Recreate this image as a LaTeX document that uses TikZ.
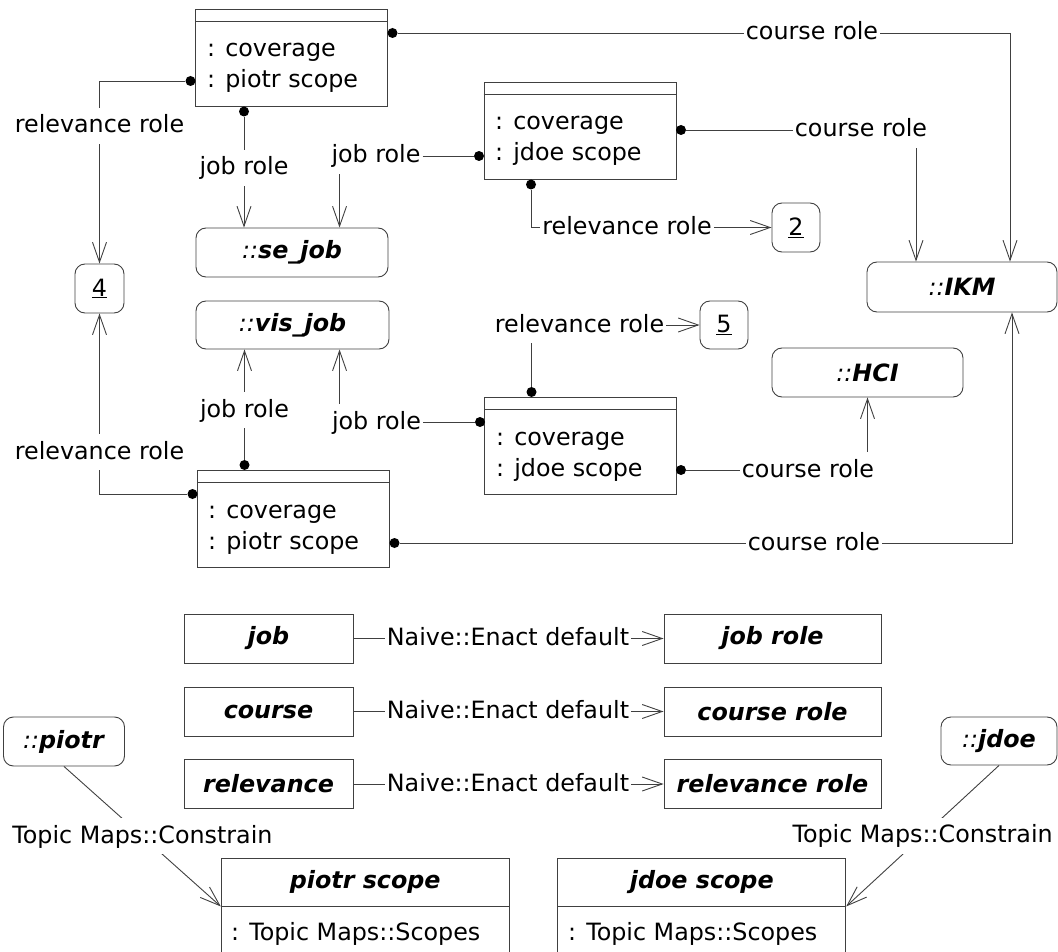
\documentclass[tikz,border=0pt]{standalone}
\usepackage{fontspec}
\setmainfont{DejaVu Sans}
\usetikzlibrary{arrows.meta, calc, positioning}

\tikzset{
  role/.style={draw=black!75, line width=0.9pt},
  tip/.style={role, -{Straight Barb[length=20pt, width=14pt]}},
  objbox/.style={role, minimum width=192pt, minimum height=97pt, inner sep=0pt},
  topic/.style={role, rounded corners=10pt, minimum height=49pt, inner sep=0pt},
  plainbox/.style={role, minimum height=49pt, inner sep=0pt},
  dot/.style={circle, fill=black, inner sep=0pt, minimum size=10pt},
  lbl/.style={inner xsep=2pt, inner ysep=6pt, text height=19pt, text depth=5pt},
  attr/.style={anchor=base west, inner sep=0pt}
}

\begin{document}
\begin{tikzpicture}[x=1pt, y=-1pt, font=\fontsize{23.8}{31}\selectfont]
\useasboundingbox (0,0) rectangle (1058,952);

% coverage associations
\node[objbox] (covA) at (291.5,58) {};
\node[objbox] (covB) at (580,131) {};
\node[objbox] (covC) at (293.5,518.5) {};
\node[objbox] (covD) at (580.5,445.5) {};
\foreach \b in {covA,covB,covC,covD}
  \draw[role] ($(\b.north west)+(0,12.5)$) -- ($(\b.north east)+(0,12.5)$);

\node[attr] (covA1) at (207,57) {: coverage};
\node[attr] (covA2) at (207,88) {: piotr scope};
\node[attr] (covB1) at (495,130) {: coverage};
\node[attr] (covB2) at (495,161) {: jdoe scope};
\node[attr] (covC1) at (208,518) {: coverage};
\node[attr] (covC2) at (208,549) {: piotr scope};
\node[attr] (covD1) at (496,445) {: coverage};
\node[attr] (covD2) at (496,476) {: jdoe scope};

% topics
\node[topic, minimum width=192pt] (sejob) at (292,252.5) {\textit{::}\textbf{\textit{se\_job}}};
\node[topic, minimum width=193pt, minimum height=48pt] (visjob) at (292.5,325) {\textit{::}\textbf{\textit{vis\_job}}};
\node[topic, minimum width=190pt, minimum height=50pt] (ikm) at (962,287) {\textit{::}\textbf{\textit{IKM}}};
\node[topic, minimum width=191pt] (hci) at (867.5,372.5) {\textit{::}\textbf{\textit{HCI}}};
\node[topic, minimum width=49pt] (ref4) at (99.5,288.5) {\underline{4}};
\node[topic, minimum width=48pt] (ref2) at (796,227.5) {\underline{2}};
\node[topic, minimum width=48pt, minimum height=48pt] (ref5) at (724,325) {\underline{5}};

% role players
\node[dot] (dAr) at (392.5,33) {};
\node[dot] (dAl) at (190.5,81) {};
\node[dot] (dAb) at (244,111.5) {};
\node[dot] (dBl) at (479,156) {};
\node[dot] (dBr) at (681,130) {};
\node[dot] (dBb) at (531,184.5) {};
\node[dot] (dCt) at (244.5,465) {};
\node[dot] (dCl) at (192.5,494) {};
\node[dot] (dCr) at (394.5,543) {};
\node[dot] (dDt) at (531.5,392) {};
\node[dot] (dDl) at (480,422) {};
\node[dot] (dDr) at (681,470) {};

\node[lbl] (crsA) at (812,33) {course role};
\node[lbl] (relA) at (99.5,126) {relevance role};
\node[lbl] (jobA) at (244,168) {job role};
\node[lbl] (jobB) at (376,156) {job role};
\node[lbl] (crsB) at (861,130) {course role};
\node[lbl] (relB) at (627,227.5) {relevance role};
\node[lbl] (jobC) at (244.5,410) {job role};
\node[lbl] (relC) at (99.5,452) {relevance role};
\node[lbl] (jobD) at (376.5,422) {job role};
\node[lbl] (relD) at (579.5,325) {relevance role};
\node[lbl] (crsD) at (808,470) {course role};
\node[lbl] (crsC) at (814,543) {course role};

\coordinate (seIn) at ($(sejob.north west)+(144,0)$);
\coordinate (visIn) at ($(visjob.south west)+(144,0)$);
\coordinate (ikmInA) at ($(ikm.north)+(48,0)$);
\coordinate (ikmInB) at ($(ikm.north)+(-46,0)$);
\coordinate (ikmInC) at ($(ikm.south)+(50,0)$);

% upper piotr coverage
\draw[role] (dAr) -- (crsA);
\draw[tip] (crsA) -| (ikmInA);
\draw[role] (dAl) -| (relA);
\draw[tip] (relA) -- (ref4);
\draw[role] (dAb) -- (jobA);
\draw[tip] (jobA) -- (jobA |- sejob.north);

% upper jdoe coverage
\draw[role] (jobB) -- (dBl);
\draw[tip] (seIn |- jobB.south) -- (seIn);
\draw[role] (dBr) -- (crsB);
\draw[tip] (ikmInB |- crsB.south) -- (ikmInB);
\draw[role] (dBb) |- (relB);
\draw[tip] (relB) -- (ref2);

% lower piotr coverage
\draw[role] (dCt) -- (jobC);
\draw[tip] (jobC) -- (jobC |- visjob.south);
\draw[role] (dCl) -| (relC);
\draw[tip] (relC) -- (ref4);
\draw[role] (dCr) -- (crsC);
\draw[tip] (crsC) -| (ikmInC);

% lower jdoe coverage
\draw[role] (jobD) -- (dDl);
\draw[tip] (visIn |- jobD.north) -- (visIn);
\draw[role] (dDt) -- (dDt |- relD.south);
\draw[tip] (relD) -- (ref5);
\draw[role] (dDr) -- (crsD);
\draw[tip] (crsD.north -| hci.south) -- (hci.south);

% default role types
\foreach \n/\t/\y in {job/job/638.5, course/course/711.5, relev/relevance/784} {
  \node[plainbox, minimum width=169pt] (\n) at (268.5,\y) {\textbf{\textit{\t}}};
  \node[plainbox, minimum width=217pt] (\n role) at (772.5,\y) {\textbf{\textit{\t\ role}}};
  \node[lbl] (\n nv) at (508,\y) {Naive::Enact default};
  \draw[role] (\n) -- (\n nv);
  \draw[tip] (\n nv) -- (\n role);
}

% scopes
\node[topic, minimum width=121pt] (piotr) at (64,741.5) {\textit{::}\textbf{\textit{piotr}}};
\node[topic, minimum width=116pt, minimum height=48pt] (jdoe) at (999,741) {\textit{::}\textbf{\textit{jdoe}}};

\node[plainbox, minimum width=288pt, minimum height=48pt] (pscT) at (365.25,882) {\textbf{\textit{piotr scope}}};
\node[plainbox, minimum width=288pt, minimum height=46pt, anchor=north] (pscA) at (pscT.south) {};
\node[attr] (pscA1) at (231,940) {: Topic Maps::Scopes};
\node[plainbox, minimum width=288pt, minimum height=48pt] (jscT) at (701.75,882) {\textbf{\textit{jdoe scope}}};
\node[plainbox, minimum width=288pt, minimum height=46pt, anchor=north] (jscA) at (jscT.south) {};
\node[attr] (jscA1) at (568,940) {: Topic Maps::Scopes};

\draw[tip] (piotr.south) -- node[lbl, fill=white] (tmA) {Topic Maps::Constrain} (pscT.south west);
\draw[tip] (jdoe.south) -- node[lbl, fill=white] (tmB) {Topic Maps::Constrain} (jscT.south east);
\end{tikzpicture}
\end{document}
